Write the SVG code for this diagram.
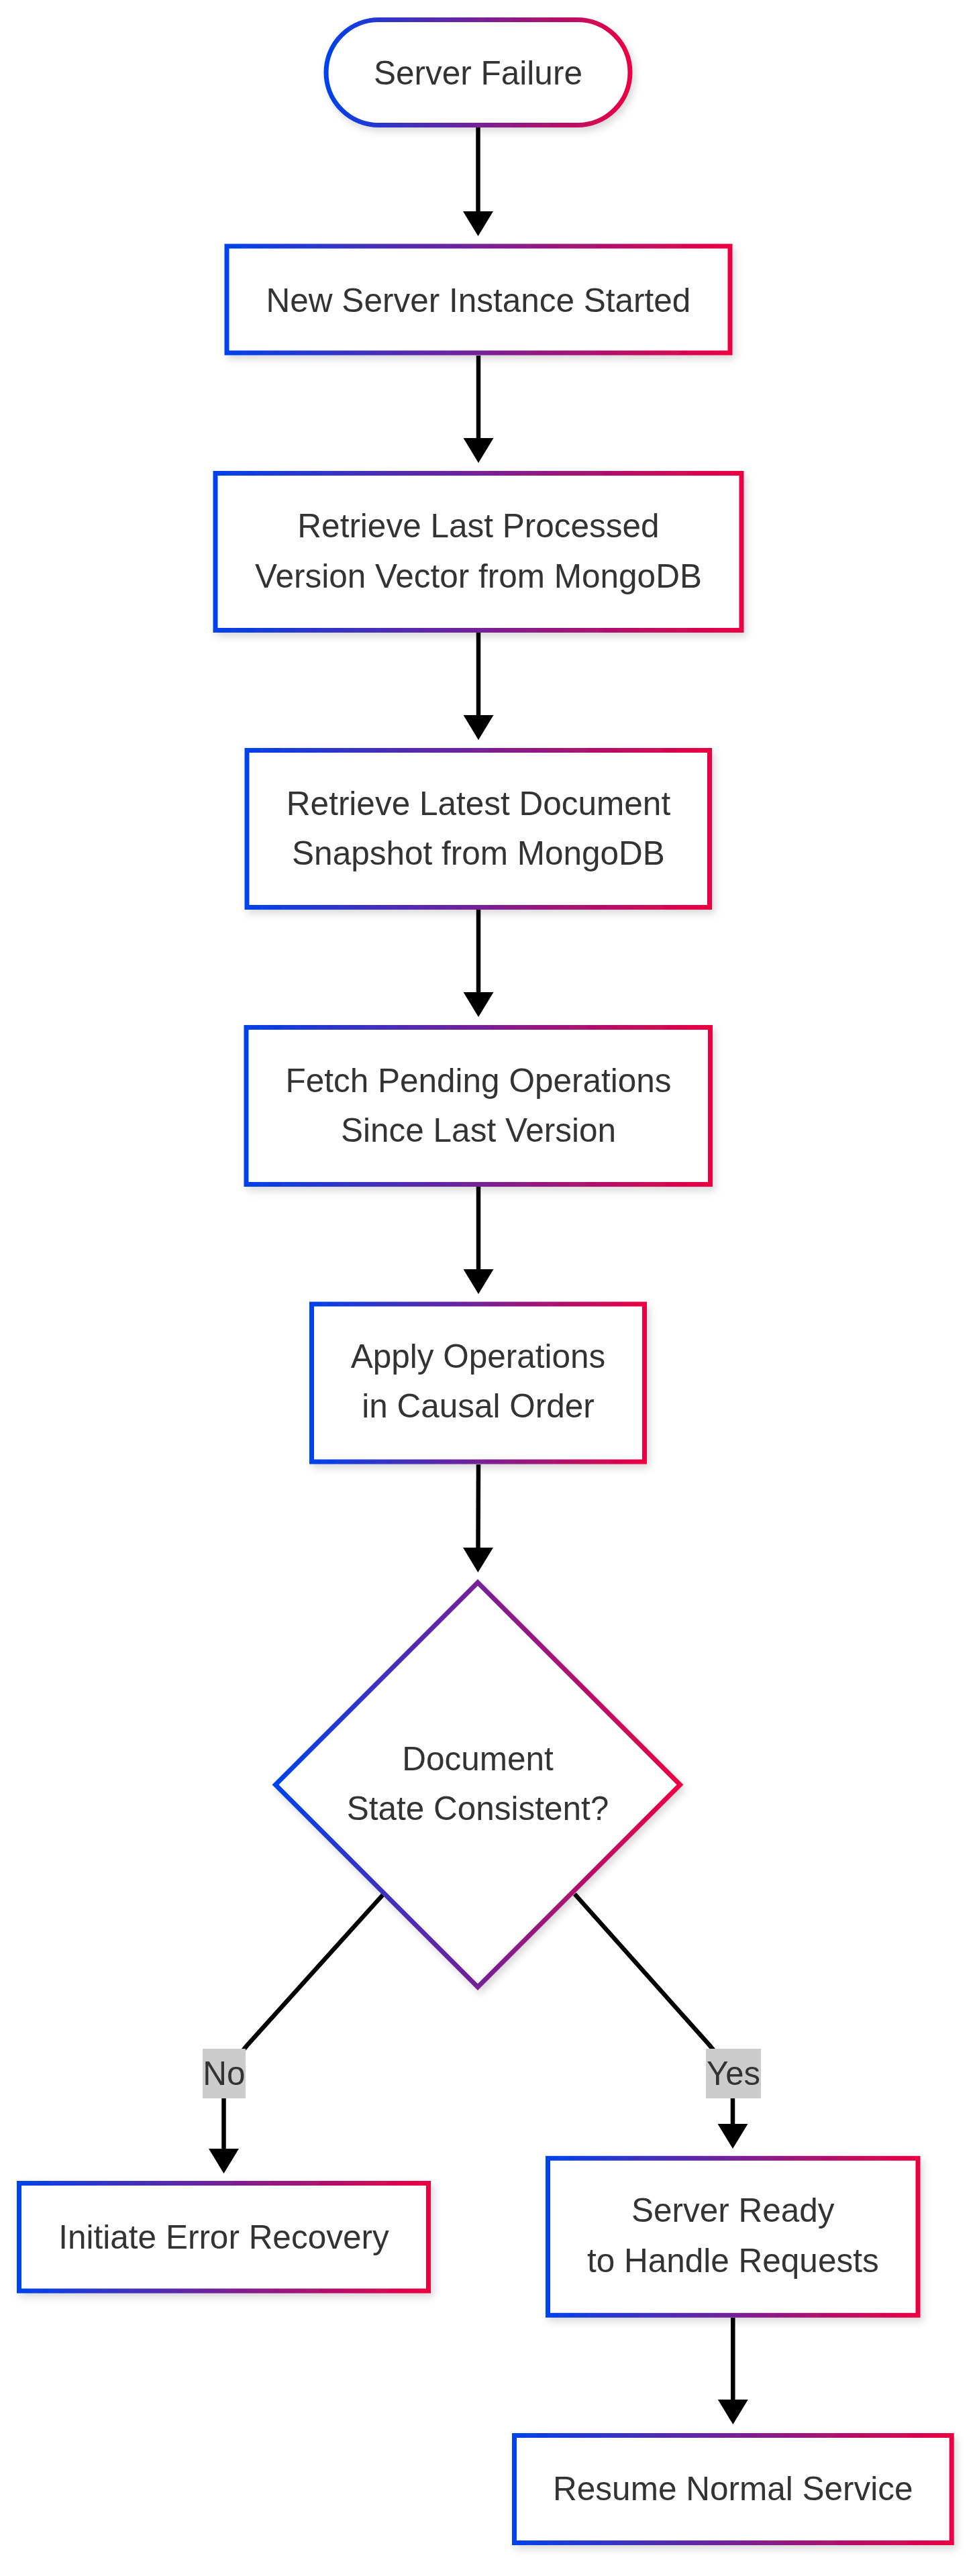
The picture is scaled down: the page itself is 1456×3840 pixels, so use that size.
<svg xmlns="http://www.w3.org/2000/svg" width="1456" height="3840" viewBox="0 0 1456 3840">
<style>
  .node { fill: #ffffff; stroke: url(#grad); stroke-width: 7; filter: url(#shadow); }
  .lbl { font-family: "Liberation Sans", Arial, sans-serif; font-size: 49.5px; fill: #333333; text-anchor: middle; }
  .edge { fill: none; stroke: #000000; stroke-width: 6.5; marker-end: url(#arrow); }
  .elbg { fill: #cccccc; }
</style>
<defs>
  <linearGradient id="grad" x1="0" y1="0" x2="1" y2="0">
    <stop offset="0" stop-color="#0042eb"/>
    <stop offset="1" stop-color="#eb0042"/>
  </linearGradient>
  <filter id="shadow" x="-10%" y="-10%" width="130%" height="130%">
    <feDropShadow dx="4" dy="6" stdDeviation="6" flood-color="#000000" flood-opacity="0.15"/>
  </filter>
  <marker id="arrow" viewBox="0 0 10 10" refX="0" refY="5" markerUnits="userSpaceOnUse" markerWidth="37" markerHeight="45" preserveAspectRatio="none" orient="auto">
    <path d="M0,0 L10,5 L0,10 z" fill="#000000"/>
  </marker>
</defs>
<rect x="0" y="0" width="1456" height="3840" fill="#ffffff"/>

<g id="connectors">
  <path class="edge" d="M712.5,190 L712.5,315"/>
  <path class="edge" d="M713,530 L713,653"/>
  <path class="edge" d="M713,943 L713,1066"/>
  <path class="edge" d="M713,1356 L713,1479"/>
  <path class="edge" d="M713,1769 L713,1892"/>
  <path class="edge" d="M713,2183 L712.5,2307"/>
  <path class="edge" d="M570.5,2824.6 L370,3047 C345,3075 333.5,3100 333.5,3130 L333.5,3203"/>
  <path class="edge" d="M856.4,2823.4 L1055,3046 C1080,3074 1092,3100 1092,3130 L1092,3166"/>
  <path class="edge" d="M1092.3,3455 L1092.3,3577"/>
  <g id="label-no">
    <rect class="elbg" x="302" y="3054" width="64" height="74"/>
    <text class="lbl" x="334" y="3108">No</text>
  </g>
  <g id="label-yes">
    <rect class="elbg" x="1052" y="3054" width="82" height="74"/>
    <text class="lbl" x="1093" y="3108" textLength="80" lengthAdjust="spacingAndGlyphs">Yes</text>
  </g>
</g>

<g id="server-failure">
  <rect class="node" x="486" y="29.5" width="453" height="157" rx="78.5" ry="78.5"/>
  <text class="lbl" x="712.5" y="125.5">Server Failure</text>
</g>

<g id="new-instance">
  <rect class="node" x="338" y="367" width="750" height="159"/>
  <text class="lbl" x="713" y="464.5">New Server Instance Started</text>
</g>

<g id="retrieve-vector">
  <rect class="node" x="321" y="705.5" width="784" height="234"/>
  <text class="lbl" x="713" y="801">Retrieve Last Processed</text>
  <text class="lbl" x="713" y="875.5">Version Vector from MongoDB</text>
</g>

<g id="retrieve-snapshot">
  <rect class="node" x="368" y="1118.5" width="689.5" height="234"/>
  <text class="lbl" x="713" y="1214.5">Retrieve Latest Document</text>
  <text class="lbl" x="713" y="1289">Snapshot from MongoDB</text>
</g>

<g id="fetch-ops">
  <rect class="node" x="367" y="1531.5" width="691.5" height="234"/>
  <text class="lbl" x="713" y="1627.5">Fetch Pending Operations</text>
  <text class="lbl" x="713" y="1702">Since Last Version</text>
</g>

<g id="apply-ops">
  <rect class="node" x="464.5" y="1944" width="496" height="235"/>
  <text class="lbl" x="712.5" y="2038.5">Apply Operations</text>
  <text class="lbl" x="712.5" y="2113">in Causal Order</text>
</g>

<g id="consistent">
  <polygon class="node" points="712,2359 1013.5,2660.5 712,2962 410.5,2660.5"/>
  <text class="lbl" x="712" y="2639">Document</text>
  <text class="lbl" x="712" y="2713">State Consistent?</text>
</g>

<g id="error-recovery">
  <rect class="node" x="28.5" y="3254.5" width="610" height="160.5"/>
  <text class="lbl" x="333.5" y="3351.5">Initiate Error Recovery</text>
</g>

<g id="server-ready">
  <rect class="node" x="816.5" y="3217.3" width="551.5" height="234"/>
  <text class="lbl" x="1092.3" y="3312">Server Ready</text>
  <text class="lbl" x="1092.3" y="3387">to Handle Requests</text>
</g>

<g id="resume-service">
  <rect class="node" x="766.5" y="3630.5" width="651.7" height="160"/>
  <text class="lbl" x="1092.3" y="3726.5">Resume Normal Service</text>
</g>
</svg>
